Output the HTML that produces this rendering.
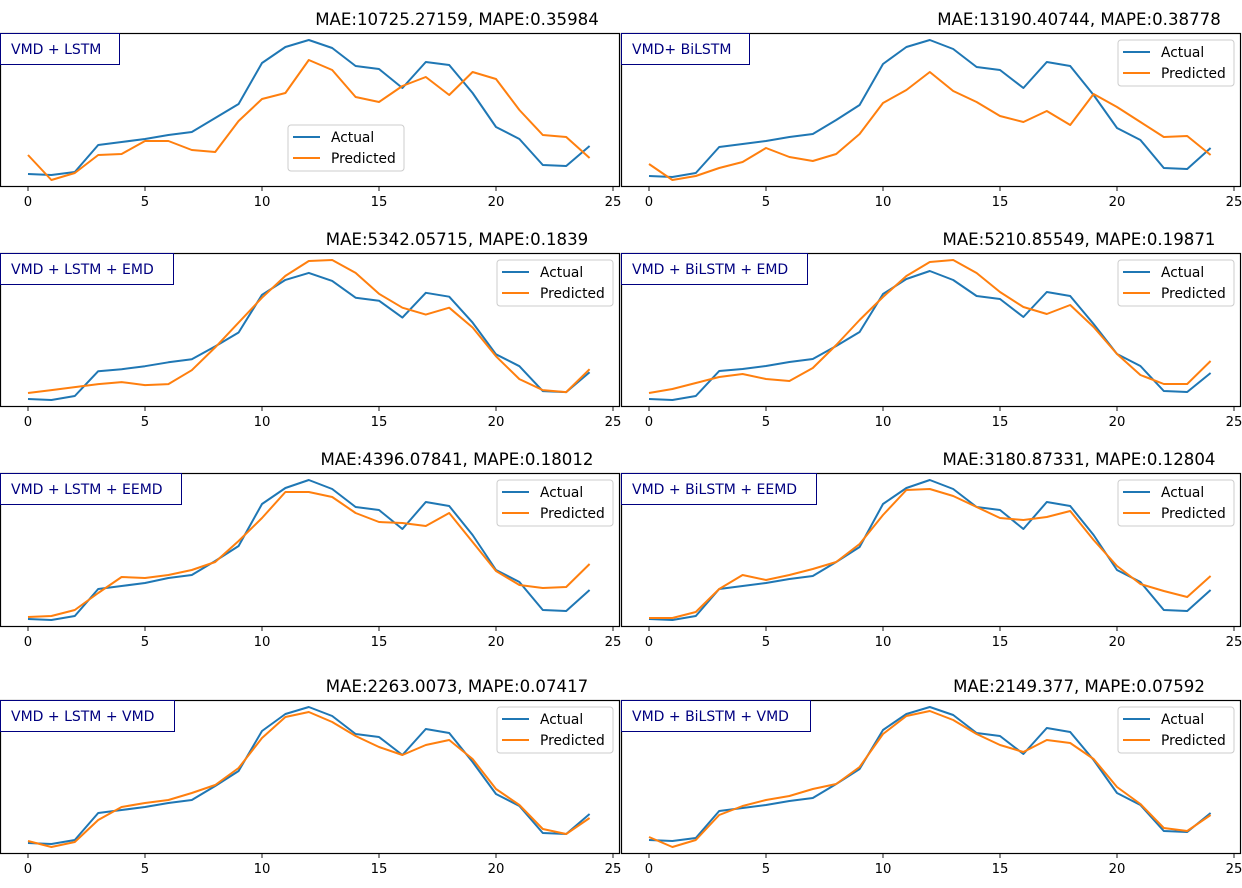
<!DOCTYPE html>
<html><head><meta charset="utf-8"><style>
html,body{margin:0;padding:0;background:#fff;}
svg{display:block;font-family:"DejaVu Sans","Liberation Sans",sans-serif;}
</style></head><body>
<svg id="fig" width="1242" height="888" viewBox="0 0 1242 888" xmlns="http://www.w3.org/2000/svg"></svg>
<script>
const xCategories=[0,1,2,3,4,5,6,7,8,9,10,11,12,13,14,15,16,17,18,19,20,21,22,23,24];
const xTicks=[0,5,10,15,20,25];
const panelLabels=["VMD + LSTM","VMD+ BiLSTM","VMD + LSTM + EMD","VMD + BiLSTM + EMD","VMD + LSTM + EEMD","VMD + BiLSTM + EEMD","VMD + LSTM + VMD","VMD + BiLSTM + VMD"];
const panelTitles=["MAE:10725.27159, MAPE:0.35984","MAE:13190.40744, MAPE:0.38778","MAE:5342.05715, MAPE:0.1839","MAE:5210.85549, MAPE:0.19871","MAE:4396.07841, MAPE:0.18012","MAE:3180.87331, MAPE:0.12804","MAE:2263.0073, MAPE:0.07417","MAE:2149.377, MAPE:0.07592"];
const actual1=[826,825,828,855,858,861,865,868,882,896,937,953,960,952,934,931,912,938,935,907,873,861,835,834,854];
const pred1=[845,820,827,845,846,859,859,850,848,879,901,907,940,930,903,898,914,923,905,928,921,890,865,863,842];
const actual2=[824,823,827,853,856,859,863,866,880,895,936,953,960,951,933,930,912,938,934,905,872,860,832,831,852];
const pred2=[836,820,824,832,838,852,843,839,846,866,897,910,928,909,898,884,878,889,875,906,893,878,863,864,845];
const actual3=[601,600,604,629,631,634,638,641,654,668,706,721,728,720,703,700,683,708,704,678,646,634,609,608,628];
const pred3=[607,610,613,616,618,615,616,630,653,678,703,725,740,741,728,707,693,686,693,673,644,621,610,608,631];
const actual4=[601,600,604,629,631,634,638,641,654,668,706,721,729,720,704,701,683,708,704,676,646,634,609,608,627];
const pred4=[607,611,617,623,626,621,619,632,655,680,703,724,738,740,727,708,693,686,695,673,646,625,616,616,639];
const actual5=[381,380,384,411,414,417,422,425,439,454,496,512,520,511,493,490,471,498,494,465,430,418,390,389,410];
const pred5=[383,384,390,407,423,422,425,430,438,459,482,508,508,503,487,478,477,474,487,458,429,415,412,413,436];
const actual6=[381,380,384,411,414,417,421,424,438,453,496,512,520,511,493,490,471,498,494,465,430,418,390,389,410];
const pred6=[382,382,388,411,425,420,425,431,438,456,485,510,511,504,493,482,480,483,489,460,434,416,409,403,424];
const actual7=[157,156,160,187,190,193,197,200,214,229,269,286,293,284,266,263,245,271,267,238,206,194,167,166,186];
const pred7=[159,153,158,180,193,197,200,207,215,232,262,283,288,278,264,253,245,255,260,241,211,195,171,166,182];
const actual8=[160,159,162,189,192,195,199,202,216,231,270,286,293,285,267,264,246,272,268,240,207,195,169,168,187];
const pred8=[163,153,160,185,194,200,204,211,216,233,266,284,289,280,266,255,248,260,257,241,213,196,172,169,185];
const actualSeries=[actual1,actual2,actual3,actual4,actual5,actual6,actual7,actual8];
const predSeries=[pred1,pred2,pred3,pred4,pred5,pred6,pred7,pred8];

const NS="http://www.w3.org/2000/svg";
const svg=document.getElementById('fig');
function mk(tag,attrs,parent){const e=document.createElementNS(NS,tag);for(const k in attrs)e.setAttribute(k,attrs[k]);(parent||svg).appendChild(e);return e;}
const rowTops=[33,253,473,700];
const axH=154;
for(let i=0;i<8;i++){
  const row=Math.floor(i/2), col=i%2;
  const left=col===0?0:621, right=col===0?620:1241;
  const top=rowTops[row], bottom=top+axH;
  const x0=col===0?28:649, xs=23.4;
  const xScale=v=>x0+v*xs;
  const A=actualSeries[i], P=predSeries[i];
  const mn=Math.min(...A,...P), mx=Math.max(...A,...P), m=(mx-mn)*0.05;
  const yScale=v=>bottom-(v-(mn-m))/((mx+m)-(mn-m))*axH;
  const g=mk('g',{});
  
  
  const clipId='clip'+i;
  const cp=mk('clipPath',{id:clipId},g);
  mk('rect',{x:left,y:top,width:right-left,height:axH},cp);
  const tclip='tclip'+i;
  const tcp=mk('clipPath',{id:tclip},g);
  mk('rect',{x:left,y:bottom,width:right-left+1,height:30},tcp);
  const t=mk('text',{x:col===0?457:1079,y:top-8,'text-anchor':'middle','font-size':'16.6',fill:'#000'},g);
  t.textContent=panelTitles[i];
  
  
  const lines=mk('g',{'clip-path':'url(#'+clipId+')'},g);
  [[A,'#1f77b4','actual-line'],[P,'#ff7f0e','predicted-line']].forEach(([s,c,n])=>{
    const p=mk('polyline',{points:s.map((v,j)=>xScale(xCategories[j]).toFixed(1)+','+yScale(v).toFixed(1)).join(' '),fill:'none',stroke:c,'stroke-width':'2','stroke-linejoin':'round'},lines);
    
    
  });
  const fr=mk('rect',{x:left+0.5,y:top+0.5,width:right-left-1,height:axH-1,fill:'none',stroke:'#000','stroke-width':'1.2'},g);
  
  
  const tg=mk('g',{'clip-path':'url(#'+tclip+')'},g);
  xTicks.forEach(tv=>{
    const tx=xScale(tv);
    if(tx>right+1)return;
    mk('line',{x1:tx,x2:tx,y1:bottom,y2:bottom+4,stroke:'#000','stroke-width':'0.9'},tg);
    const tl=mk('text',{x:tx,y:bottom+19,'text-anchor':'middle','font-size':'13.2',fill:'#000'},tg);
    tl.textContent=tv;
    
    
  });
  const lbw=[119,128,173,186,181,195,174,189][i];
  const lb=mk('rect',{x:left+0.5,y:top+0.5,width:lbw,height:31,fill:'#fff',stroke:'#000080','stroke-width':'1'},g);
  
  
  const lt=mk('text',{x:left+11,y:top+21,'font-size':'14',fill:'#000080'},g);
  lt.textContent=panelLabels[i];
  
  
  let lx,ly;
  if(i===0){lx=288;ly=125;}else{lx=right-123;ly=top+7;}
  const lg=mk('g',{},g);
  
  
  mk('rect',{x:lx,y:ly,width:116,height:46,rx:3,fill:'#fff','fill-opacity':'0.8',stroke:'#ccc','stroke-width':'1'},lg);
  [['Actual','#1f77b4'],['Predicted','#ff7f0e']].forEach(([n,c],k)=>{
    const yy=ly+12+k*21;
    mk('line',{x1:lx+5,x2:lx+32,y1:yy,y2:yy,stroke:c,'stroke-width':'2'},lg);
    const tt=mk('text',{x:lx+43,y:yy+5,'font-size':'13.8',fill:'#000'},lg);
    tt.textContent=n;
    
    
  });
}
</script>
</body></html>
